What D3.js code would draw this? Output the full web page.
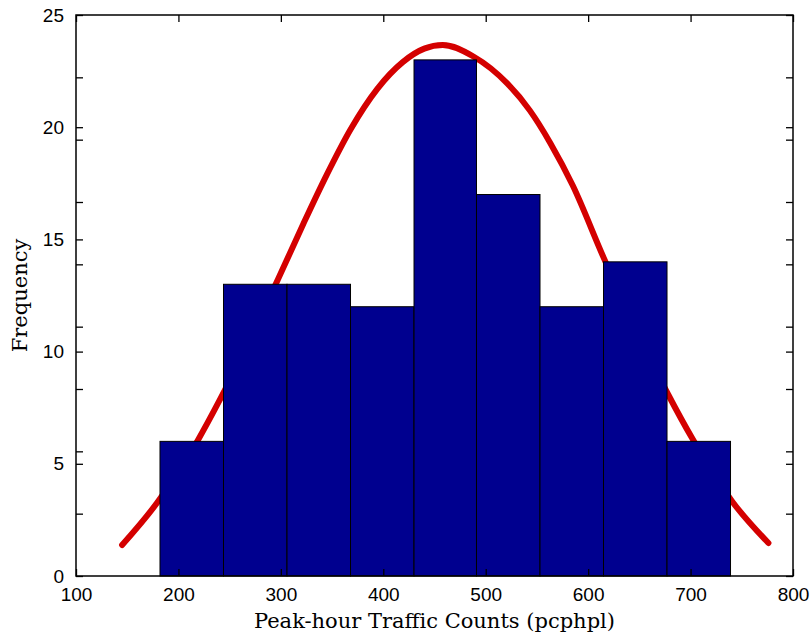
<!DOCTYPE html>
<html>
<head>
<meta charset="utf-8">
<script src="https://cdn.jsdelivr.net/npm/d3@7"></script>
<style>
  body { margin: 0; background: #fff; }
  svg { display: block; }
  .tick-label { font-family: "Liberation Sans", Arial, sans-serif; font-size: 19px; fill: #000; }
  .axis-title { font-family: "DejaVu Serif", "Liberation Serif", serif; font-size: 21px; fill: #000; }
</style>
</head>
<body>
<div id="chart"></div>
<script>
// histogram bins (pcphpl)
const binEdges = [182, 244, 306, 368, 430, 491, 553, 615, 677, 739]
const binCounts = [6, 13, 13, 12, 23, 17, 12, 14, 6]

// fitted normal curve
const curveX = [145, 179, 219, 241, 297, 322, 345, 368, 394, 419, 440, 458, 488, 521, 543, 563, 585, 615, 678, 702, 741, 776]
const curveY = [1.38, 3.25, 6.05, 7.9, 13.2, 15.7, 17.9, 19.9, 21.7, 22.9, 23.5, 23.66, 23.15, 21.95, 20.75, 19.3, 17.4, 14.2, 8.1, 6.1, 3.3, 1.47]

const xTicks = [100, 200, 300, 400, 500, 600, 700, 800]
const yTicks = [0, 5, 10, 15, 20, 25]
// ticks of the second (overlaid) axes on the sides
const y2Ticks = [1, 2, 3, 4, 5, 6, 7, 8]

// set a dimension
const margin = { top: 15, right: 19, bottom: 68, left: 76 }
const width = 812 - margin.left - margin.right
const height = 644 - margin.top - margin.bottom

const svg = d3.select('#chart')
    .append('svg')
    .attr('width', 812)
    .attr('height', 644)
    .append('g')
    .attr('transform', `translate(${margin.left}, ${margin.top})`)

const xScale = d3.scaleLinear().domain([100, 800]).range([0, width])
const yScale = d3.scaleLinear().domain([0, 25]).range([height, 0])
const y2Scale = d3.scaleLinear().domain([0, 9]).range([height, 0])

// curve sits behind the bars
const line = d3.line()
    .x((d, i) => xScale(curveX[i]))
    .y(d => yScale(d))
    .curve(d3.curveMonotoneX)

svg.append('path')
    .datum(curveY)
    .attr('fill', 'none')
    .attr('stroke', '#d40000')
    .attr('stroke-width', 6)
    .attr('stroke-linecap', 'round')
    .attr('d', line)

// bars
svg.selectAll('.bar')
    .data(binCounts)
    .enter()
    .append('rect')
    .attr('class', 'bar')
    .attr('x', (d, i) => xScale(binEdges[i]))
    .attr('y', d => yScale(d))
    .attr('width', (d, i) => xScale(binEdges[i + 1]) - xScale(binEdges[i]))
    .attr('height', d => height - yScale(d))
    .attr('fill', '#00008f')
    .attr('stroke', '#000')
    .attr('stroke-width', 1)

// axes box with inward ticks on all four sides
const tickLen = 7
const xAxisBottom = d3.axisBottom(xScale).tickValues(xTicks).tickSizeInner(-tickLen).tickSizeOuter(0).tickPadding(tickLen + 4)
const xAxisTop = d3.axisTop(xScale).tickValues(xTicks).tickSizeInner(-tickLen).tickSizeOuter(0).tickFormat('')
const yAxisLeft = d3.axisLeft(yScale).tickValues(yTicks).tickSizeInner(-tickLen).tickSizeOuter(0).tickPadding(tickLen + 5)
const yAxisRight = d3.axisRight(yScale).tickValues(yTicks).tickSizeInner(-tickLen).tickSizeOuter(0).tickFormat('')
const y2AxisLeft = d3.axisLeft(y2Scale).tickValues(y2Ticks).tickSizeInner(-tickLen).tickSizeOuter(0).tickFormat('')
const y2AxisRight = d3.axisRight(y2Scale).tickValues(y2Ticks).tickSizeInner(-tickLen).tickSizeOuter(0).tickFormat('')

const gxb = svg.append('g').attr('transform', `translate(0, ${height})`).call(xAxisBottom)
svg.append('g').call(xAxisTop)
svg.append('g').call(yAxisLeft)
svg.append('g').attr('transform', `translate(${width}, 0)`).call(yAxisRight)
svg.append('g').call(y2AxisLeft)
svg.append('g').attr('transform', `translate(${width}, 0)`).call(y2AxisRight)

svg.selectAll('.domain').remove()
svg.selectAll('.tick line').attr('stroke', '#000').attr('stroke-width', 1.3)
svg.selectAll('.tick text').attr('class', 'tick-label').attr('font-size', null).attr('font-family', null)
gxb.selectAll('text').attr('dy', '0.75em')

svg.append('rect')
    .attr('width', width)
    .attr('height', height)
    .attr('fill', 'none')
    .attr('stroke', '#000')
    .attr('stroke-width', 1.5)

// axis titles
svg.append('text')
    .attr('class', 'axis-title')
    .attr('x', width / 2)
    .attr('y', height + 52)
    .attr('text-anchor', 'middle')
    .text('Peak-hour Traffic Counts (pcphpl)')

svg.append('text')
    .attr('class', 'axis-title')
    .attr('transform', `translate(-49, ${height / 2}) rotate(-90)`)
    .attr('text-anchor', 'middle')
    .text('Frequency')
</script>
</body>
</html>
